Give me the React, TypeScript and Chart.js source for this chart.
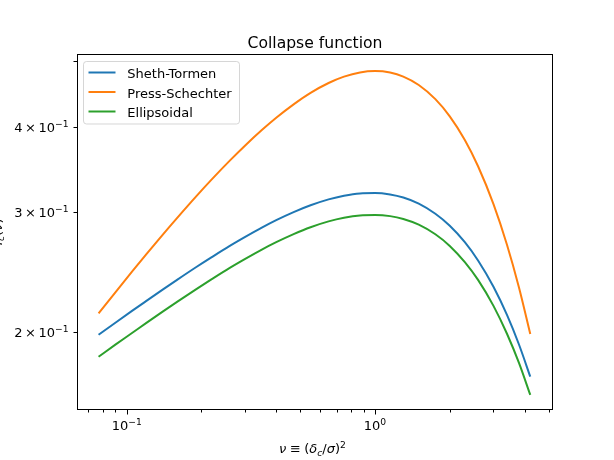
import React, { useEffect, useRef } from 'react';
import { Chart, registerables } from 'chart.js';

Chart.register(...registerables);

// nu = (delta_c / sigma)^2
const nuValues = [0.077, 0.09, 0.105, 0.12, 0.14, 0.16, 0.19, 0.22, 0.26, 0.3, 0.35, 0.4, 0.47, 0.55, 0.65, 0.75, 0.87, 1.0, 1.15, 1.3, 1.5, 1.75, 2.0, 2.3, 2.6, 3.0, 3.4, 3.8, 4.22];
const shethTormen = [0.1981, 0.2064, 0.2148, 0.2222, 0.231, 0.2388, 0.249, 0.2577, 0.2677, 0.276, 0.2848, 0.2921, 0.3002, 0.3072, 0.3134, 0.3173, 0.3198, 0.3202, 0.3186, 0.3153, 0.3089, 0.2985, 0.2866, 0.2711, 0.2548, 0.2331, 0.2119, 0.1917, 0.1719];
const pressSchechter = [0.213, 0.2288, 0.2453, 0.2603, 0.2784, 0.2946, 0.3163, 0.3353, 0.3573, 0.3762, 0.3963, 0.4132, 0.4324, 0.4495, 0.4648, 0.4749, 0.4817, 0.4839, 0.4815, 0.4749, 0.4616, 0.44, 0.4151, 0.3832, 0.3506, 0.3084, 0.2688, 0.2326, 0.1987];
const ellipsoidal = [0.1839, 0.1916, 0.1993, 0.2063, 0.2145, 0.2217, 0.2311, 0.2392, 0.2485, 0.2562, 0.2644, 0.2711, 0.2786, 0.2852, 0.2909, 0.2945, 0.2968, 0.2972, 0.2961, 0.2933, 0.2877, 0.2785, 0.2677, 0.2534, 0.2386, 0.2185, 0.1988, 0.1801, 0.1616];

const seriesNames = ['Sheth-Tormen', 'Press-Schechter', 'Ellipsoidal'];
const seriesColors = ['#1f77b4', '#ff7f0e', '#2ca02c'];

const chartTitle = 'Collapse function';

// axis ticks
const xMajorTicks = [0.1, 1];
const xMajorExponents = ['\u22121', '0'];
const xMinorTicks = [0.07, 0.08, 0.09, 0.2, 0.3, 0.4, 0.5, 0.6, 0.7, 0.8, 0.9, 2, 3, 4, 5];
const yLabeledTicks = [0.2, 0.3, 0.4];
const yTickMantissas = ['2', '3', '4'];
const yTickExponent = '\u22121';
const yUnlabeledTicks = [0.5];

const X_MIN = 0.06304;
const X_MAX = 5.21;
const Y_MIN = 0.15409;
const Y_MAX = 0.511;

const FONT = '"DejaVu Sans", "Liberation Sans", sans-serif';
const FS = 13;
const SUP = 9.2;

type Run = { t: string; size?: number; italic?: boolean; dy?: number; padL?: number; padR?: number };

function fontOf(r: Run) {
  return `${r.italic ? 'italic ' : ''}${r.size ?? FS}px ${FONT}`;
}

function drawRuns(ctx: CanvasRenderingContext2D, runs: Run[], x: number, y: number, align: 'left' | 'center' | 'right') {
  let w = 0;
  const widths: number[] = [];
  for (const r of runs) {
    ctx.font = fontOf(r);
    const m = ctx.measureText(r.t).width;
    widths.push(m);
    w += (r.padL ?? 0) + m + (r.padR ?? 0);
  }
  let cx = align === 'center' ? x - w / 2 : align === 'right' ? x - w : x;
  ctx.textAlign = 'left';
  ctx.textBaseline = 'alphabetic';
  runs.forEach((r, i) => {
    ctx.font = fontOf(r);
    cx += r.padL ?? 0;
    ctx.fillText(r.t, cx, y + (r.dy ?? 0));
    cx += widths[i] + (r.padR ?? 0);
  });
}

const decorPlugin = {
  id: 'mplDecor',
  afterDraw(chart: any) {
    const ctx: CanvasRenderingContext2D = chart.ctx;
    const xs = chart.scales.x;
    const ys = chart.scales.y;
    const left = 77.5, right = 552.5, top = 54.5, bottom = 409.5;
    ctx.save();
    ctx.fillStyle = '#000';
    ctx.strokeStyle = '#000';
    ctx.lineWidth = 1;

    // frame
    ctx.strokeRect(left, top, right - left, bottom - top);

    // x ticks
    ctx.beginPath();
    for (const v of xMajorTicks) {
      const px = Math.round(xs.getPixelForValue(v)) + 0.5;
      ctx.moveTo(px, bottom); ctx.lineTo(px, bottom + 5);
    }
    for (const v of xMinorTicks) {
      const px = Math.round(xs.getPixelForValue(v)) + 0.5;
      if (px < left - 0.1 || px > right + 0.1) continue;
      ctx.moveTo(px, bottom); ctx.lineTo(px, bottom + 3);
    }
    // y ticks
    for (const v of [...yLabeledTicks, ...yUnlabeledTicks]) {
      const py = Math.round(ys.getPixelForValue(v)) + 0.5;
      ctx.moveTo(left, py); ctx.lineTo(left - 4, py);
    }
    ctx.stroke();

    // x tick labels
    xMajorTicks.forEach((v, i) => {
      const px = xs.getPixelForValue(v);
      drawRuns(ctx, [{ t: '10' }, { t: xMajorExponents[i], size: SUP, dy: -5 }], px, 429.5, 'center');
    });
    // y tick labels
    yLabeledTicks.forEach((v, i) => {
      const py = ys.getPixelForValue(v);
      drawRuns(ctx, [
        { t: yTickMantissas[i] },
        { t: '\u00d7', padL: 2.5, padR: 2.5 },
        { t: '10' },
        { t: yTickExponent, size: SUP, dy: -5 },
      ], 68.5, py + 4.7, 'right');
    });

    // x axis title
    drawRuns(ctx, [
      { t: '\u03bd', italic: true },
      { t: '\u2261', padL: 3.5, padR: 3.5 },
      { t: '(' },
      { t: '\u03b4', italic: true },
      { t: 'c', italic: true, size: SUP, dy: 2.5 },
      { t: '/' },
      { t: '\u03c3', italic: true },
      { t: ')' },
      { t: '2', size: SUP, dy: -5.5 },
    ], 312.5, 453.3, 'center');

    // y axis title (mostly off-canvas, as in reference)
    ctx.save();
    ctx.translate(1.5, 232);
    ctx.rotate(-Math.PI / 2);
    drawRuns(ctx, [
      { t: 'f', italic: true },
      { t: 'c', italic: true, size: SUP, dy: 2.5 },
      { t: '(' },
      { t: '\u03bd', italic: true },
      { t: ')' },
    ], 0, 0, 'center');
    ctx.restore();

    // title
    ctx.font = `15.6px ${FONT}`;
    ctx.textAlign = 'center';
    ctx.textBaseline = 'alphabetic';
    ctx.fillText(chartTitle, 315, 47.5);

    // legend
    const lx = 83.5, ly = 61.5, lw = 156, lh = 62.5, rr = 3;
    ctx.beginPath();
    ctx.moveTo(lx + rr, ly);
    ctx.lineTo(lx + lw - rr, ly);
    ctx.quadraticCurveTo(lx + lw, ly, lx + lw, ly + rr);
    ctx.lineTo(lx + lw, ly + lh - rr);
    ctx.quadraticCurveTo(lx + lw, ly + lh, lx + lw - rr, ly + lh);
    ctx.lineTo(lx + rr, ly + lh);
    ctx.quadraticCurveTo(lx, ly + lh, lx, ly + lh - rr);
    ctx.lineTo(lx, ly + rr);
    ctx.quadraticCurveTo(lx, ly, lx + rr, ly);
    ctx.closePath();
    ctx.fillStyle = 'rgba(255,255,255,0.8)';
    ctx.fill();
    ctx.strokeStyle = 'rgba(204,204,204,0.8)';
    ctx.lineWidth = 1;
    ctx.stroke();

    const rows = [72.5, 92, 111.5];
    seriesNames.forEach((name, i) => {
      ctx.strokeStyle = seriesColors[i];
      ctx.lineWidth = 2;
      ctx.beginPath();
      ctx.moveTo(88.5, rows[i]);
      ctx.lineTo(115.5, rows[i]);
      ctx.stroke();
      ctx.fillStyle = '#000';
      ctx.font = `${FS}px ${FONT}`;
      ctx.textAlign = 'left';
      ctx.textBaseline = 'alphabetic';
      ctx.fillText(name, 127.3, rows[i] + 5.8);
    });

    ctx.restore();
  },
};

export default function App() {
  const canvasRef = useRef<HTMLCanvasElement | null>(null);

  useEffect(() => {
    const canvas = canvasRef.current;
    if (!canvas) return;
    const seriesValues = [shethTormen, pressSchechter, ellipsoidal];
    const chart = new Chart(canvas, {
      type: 'line',
      data: {
        datasets: seriesNames.map((name, i) => ({
          label: name,
          data: nuValues.map((x, j) => ({ x, y: seriesValues[i][j] })),
          borderColor: seriesColors[i],
          backgroundColor: seriesColors[i],
          borderWidth: 2,
          pointRadius: 0,
          pointHoverRadius: 0,
          fill: false,
          cubicInterpolationMode: 'monotone' as const,
        })),
      },
      options: {
        animation: false,
        responsive: false,
        devicePixelRatio: 1,
        layout: { padding: { left: 77, right: 61, top: 55, bottom: 51 } },
        plugins: {
          legend: { display: false },
          title: { display: false },
          tooltip: { enabled: false },
        },
        scales: {
          x: { type: 'logarithmic', min: X_MIN, max: X_MAX, display: false },
          y: { type: 'logarithmic', min: Y_MIN, max: Y_MAX, display: false },
        },
      },
      plugins: [decorPlugin],
    });
    return () => chart.destroy();
  }, []);

  return (
    <div style={{ position: 'fixed', left: 0, top: 0, width: 614, height: 460, background: '#fff' }}>
      <canvas ref={canvasRef} width={614} height={460} style={{ width: 614, height: 460, display: 'block' }} />
    </div>
  );
}
